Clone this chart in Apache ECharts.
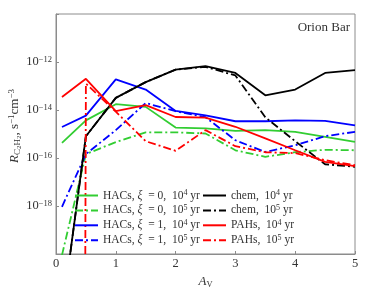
<!DOCTYPE html>
<html>
<head>
<meta charset="utf-8">
<script src="https://cdn.jsdelivr.net/npm/echarts@6/dist/echarts.min.js"></script>
<style>html,body{margin:0;padding:0;background:#fff;}#c{width:374px;height:299px;}</style>
</head>
<body>
<div id="c"></div>
<script>
// ---- data ----
const av = [0.1, 0.5, 1, 1.5, 2, 2.5, 3, 3.5, 4, 4.5, 5];
const hacs0_1e4 = [4.3e-16, 3.7e-15, 1.74e-14, 1.35e-14, 1.86e-15, 1.7e-15, 1.35e-15, 1.45e-15, 1.23e-15, 7.6e-16, 4.7e-16];
const hacs0_1e5 = [9e-21, 1.45e-16, 4.6e-16, 1.17e-15, 1.17e-15, 1.05e-15, 2.1e-16, 1.12e-16, 1.74e-16, 2.2e-16, 2.1e-16];
const hacs1_1e4 = [1.95e-15, 5.8e-15, 1.9e-13, 7.1e-14, 9.1e-15, 6.0e-15, 3.4e-15, 3.4e-15, 3.7e-15, 3.5e-15, 2.3e-15];
const hacs1_1e5 = [9.3e-19, 1.45e-16, 1.45e-15, 1.95e-14, 8.9e-15, 5.0e-15, 5.5e-16, 1.78e-16, 3.4e-16, 8.1e-16, 1.23e-15];
const chem_1e4 = [2.8e-23, 8.1e-16, 3.2e-14, 1.45e-13, 4.8e-13, 6.8e-13, 3.5e-13, 4.1e-14, 7.1e-14, 3.5e-13, 4.6e-13];
const chem_1e5 = [2.8e-23, 8.1e-16, 3.2e-14, 1.45e-13, 4.8e-13, 6.3e-13, 2.75e-13, 5.0e-15, 5.0e-16, 5.5e-17, 4.3e-17];
const pahs_1e4 = [3.5e-14, 2.0e-13, 8.9e-15, 1.6e-14, 5.1e-15, 4.8e-15, 2.0e-15, 6.6e-16, 2.1e-16, 6.9e-17, 4.6e-17];
const pahs_1e5 = [1e-300, 1.26e-13, 8.5e-15, 5.0e-16, 2.0e-16, 1.45e-15, 3.1e-16, 1.74e-16, 1.6e-16, 8.1e-17, 5.0e-17];

const xTicks = [0, 1, 2, 3, 4, 5];
const yTickExps = [-18, -16, -14, -12];

const seriesNames = ['HACs0_4', 'HACs0_5', 'HACs1_4', 'HACs1_5', 'chem_4', 'chem_5', 'PAHs_4', 'PAHs_5'];
const legendTexts = {
  'HACs0_4': '{n|HACs, }{i|ξ}{n|  = 0,  10}{s|4}{n| yr}',
  'HACs0_5': '{n|HACs, }{i|ξ}{n|  = 0,  10}{s|5}{n| yr}',
  'HACs1_4': '{n|HACs, }{i|ξ}{n|  = 1,  10}{s|4}{n| yr}',
  'HACs1_5': '{n|HACs, }{i|ξ}{n|  = 1,  10}{s|5}{n| yr}',
  'chem_4': '{n|chem,  10}{s|4}{n| yr}',
  'chem_5': '{n|chem,  10}{s|5}{n| yr}',
  'PAHs_4': '{n|PAHs,  10}{s|4}{n| yr}',
  'PAHs_5': '{n|PAHs,  10}{s|5}{n| yr}'
};
const seriesValues = [hacs0_1e4, hacs0_1e5, hacs1_1e4, hacs1_1e5, chem_1e4, chem_1e5, pahs_1e4, pahs_1e5];
const seriesColors = ['#32cd32', '#32cd32', '#0000ff', '#0000ff', '#000000', '#000000', '#ff0000', '#ff0000'];
const dashDot = [8, 3, 2, 3];

const FONT = 'Liberation Serif';
const TXT = '#333';
const AX = '#8c8c8c';

const richBase = {
  n: {fontFamily: FONT, fontSize: 11.5, color: TXT, lineHeight: 13},
  i: {fontFamily: FONT, fontSize: 11.5, color: TXT, fontStyle: 'italic', lineHeight: 13},
  s: {fontFamily: FONT, fontSize: 8, color: TXT, verticalAlign: 'top', lineHeight: 9}
};

const chart = echarts.init(document.getElementById('c'), null, {renderer: 'canvas'});

const series = seriesNames.map((nm, k) => ({
  name: nm,
  type: 'line',
  symbol: 'none',
  clip: true,
  data: av.map((x, j) => [x, seriesValues[k][j]]),
  lineStyle: {color: seriesColors[k], width: 1.8, type: (k % 2 === 1) ? dashDot : 'solid'},
  itemStyle: {color: seriesColors[k]},
  emphasis: {disabled: true},
  animation: false
}));

function legendCfg(names, left) {
  return {
    data: names,
    orient: 'vertical',
    left: left,
    top: 189,
    padding: 0,
    itemWidth: 23,
    itemHeight: 10,
    itemGap: 2.4,
    selectedMode: false,
    itemStyle: {color: 'transparent', borderColor: 'transparent', borderWidth: 0, opacity: 0},
    formatter: nm => legendTexts[nm],
    textStyle: {fontFamily: FONT, fontSize: 11.5, color: TXT, rich: richBase}
  };
}

chart.setOption({
  animation: false,
  backgroundColor: '#fff',
  grid: {left: 56, right: 19, top: 14, bottom: 45, show: true, borderColor: AX, borderWidth: 1, backgroundColor: 'transparent'},
  xAxis: {
    type: 'value', min: 0, max: 5, interval: 1,
    axisLine: {show: true, lineStyle: {color: AX}},
    axisTick: {show: true, inside: true, length: 3, lineStyle: {color: AX}},
    splitLine: {show: false},
    axisLabel: {
      margin: 3, fontFamily: FONT, fontSize: 12.5, color: TXT,
      formatter: v => xTicks.indexOf(v) >= 0 ? String(v) : ''
    },
    name: '{a|A}{v|V}',
    nameLocation: 'middle',
    nameGap: 13,
    nameTextStyle: {
      rich: {
        a: {fontFamily: FONT, fontSize: 13, fontStyle: 'italic', color: TXT, lineHeight: 15},
        v: {fontFamily: FONT, fontSize: 8.5, color: TXT, verticalAlign: 'bottom', lineHeight: 11}
      }
    }
  },
  yAxis: {
    type: 'log', logBase: 100, min: 1e-20, max: 1e-10,
    axisLine: {show: true, lineStyle: {color: AX}},
    axisTick: {show: true, inside: true, length: 3, lineStyle: {color: AX}},
    splitLine: {show: false},
    minorTick: {show: false},
    axisLabel: {
      margin: 4,
      formatter: v => {
        const e = Math.round(Math.log10(v));
        return yTickExps.indexOf(e) >= 0 ? '{n|10}{s|−' + Math.abs(e) + '}' : '';
      },
      rich: {
        n: {fontFamily: FONT, fontSize: 12.5, color: TXT, lineHeight: 14},
        s: {fontFamily: FONT, fontSize: 8.5, color: TXT, verticalAlign: 'top', lineHeight: 9}
      }
    }
  },
  legend: [legendCfg(seriesNames.slice(0, 4), 74), legendCfg(seriesNames.slice(4), 202)],
  graphic: [
    {
      type: 'text', right: 24, top: 21,
      style: {text: 'Orion Bar', fontFamily: FONT, fontSize: 13, fill: TXT}
    },
    {
      type: 'text', x: 15, y: 126, rotation: Math.PI / 2,
      style: {
        text: '{r|R}{c|C}{d|2}{c|H}{d|2}{n|, s}{s|−1}{n|cm}{s|−3}',
        align: 'center', verticalAlign: 'middle',
        rich: {
          r: {fontFamily: FONT, fontSize: 13, fontStyle: 'italic', fill: TXT, color: TXT, lineHeight: 15},
          c: {fontFamily: FONT, fontSize: 9, fill: TXT, color: TXT, verticalAlign: 'bottom', lineHeight: 12},
          d: {fontFamily: FONT, fontSize: 7, fill: TXT, color: TXT, verticalAlign: 'bottom', lineHeight: 9},
          n: {fontFamily: FONT, fontSize: 13, fill: TXT, color: TXT, lineHeight: 15},
          s: {fontFamily: FONT, fontSize: 9, fill: TXT, color: TXT, verticalAlign: 'top', lineHeight: 10}
        }
      }
    }
  ],
  series: series
});
</script>
</body>
</html>
